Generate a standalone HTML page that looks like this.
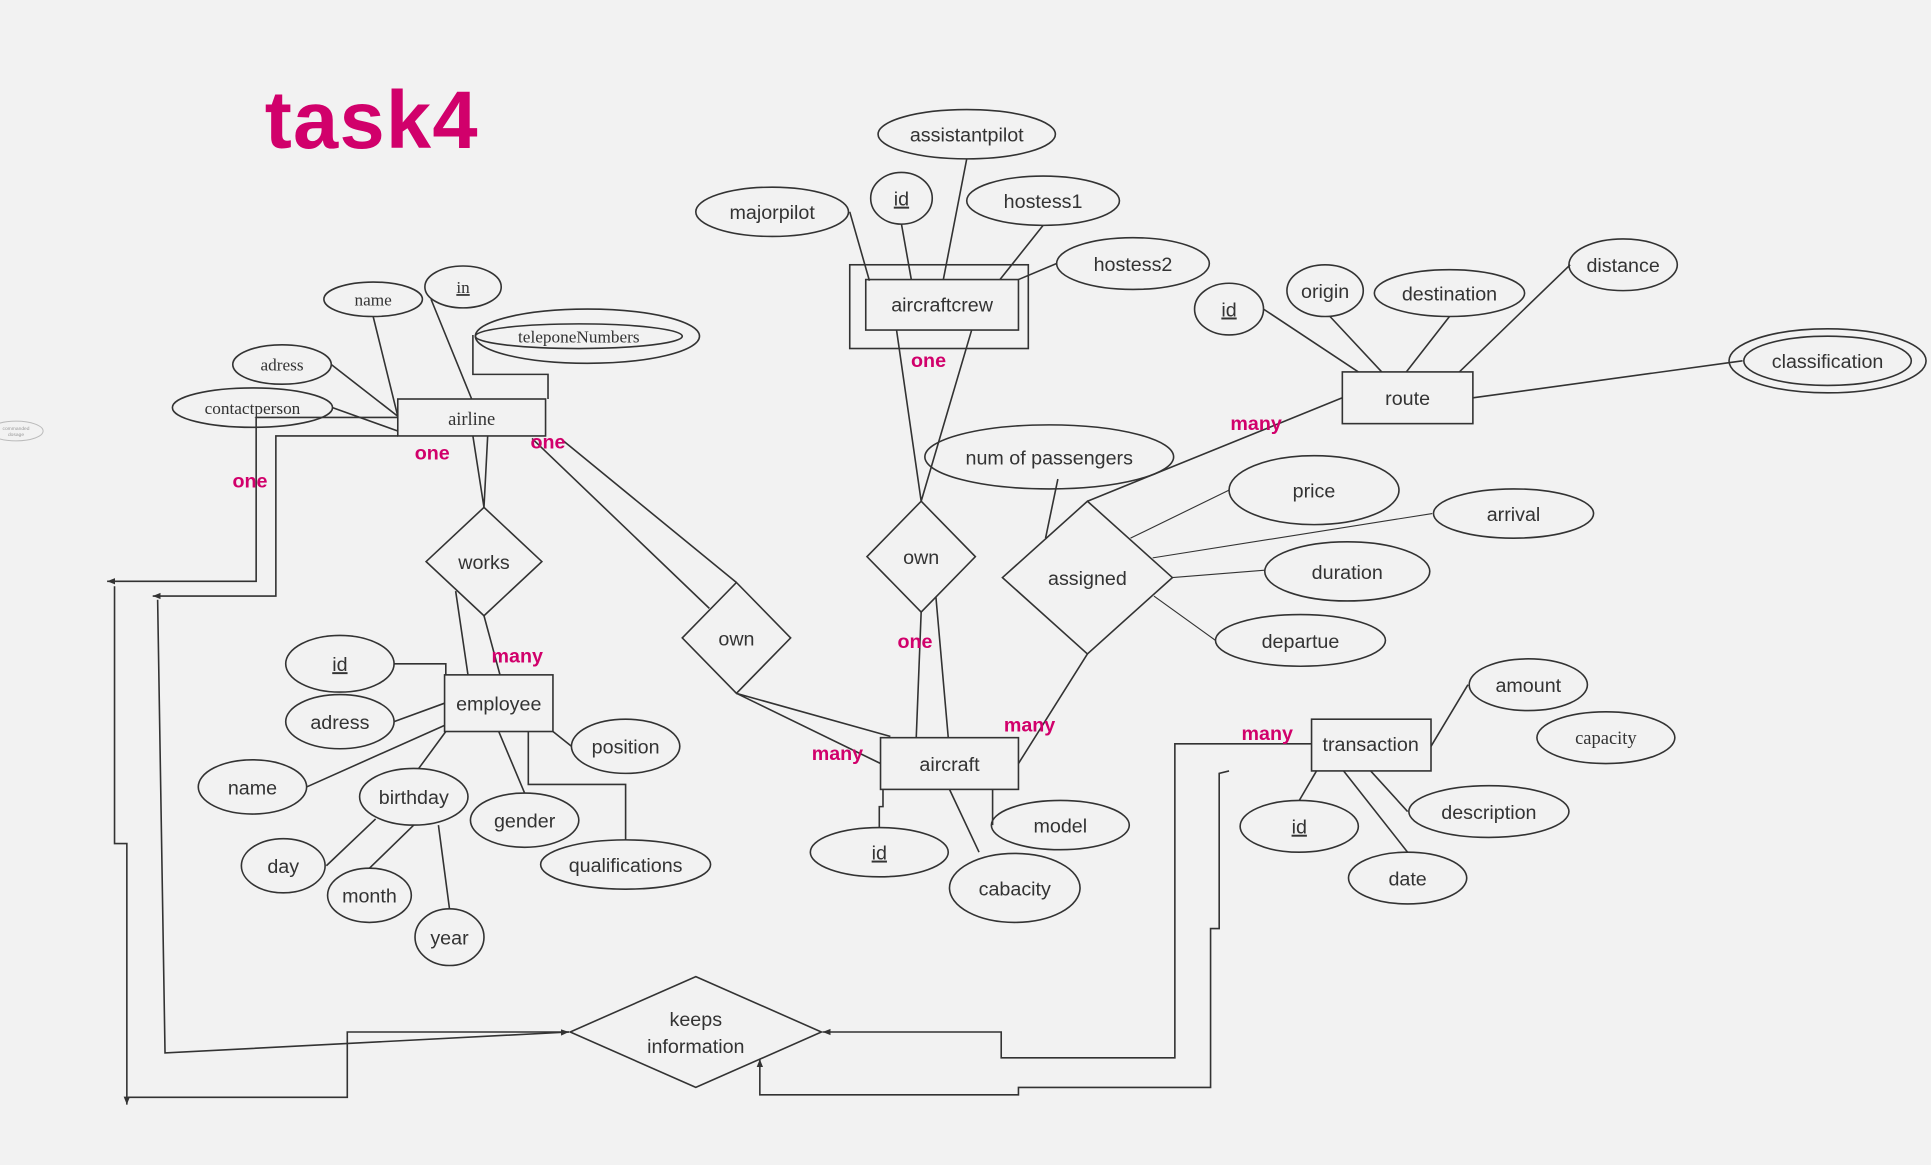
<!DOCTYPE html>
<html><head><meta charset="utf-8"><style>
html,body{margin:0;padding:0;background:#f2f2f2;}
svg{display:block}
text{font-family:"Liberation Sans",sans-serif;fill:#333;}
.s{font-family:"Liberation Serif",serif;}
.p{fill:#d1006b;font-weight:bold;font-size:16px;}
</style></head><body>
<svg width="1931" height="1165" viewBox="0 0 1568 946" xmlns="http://www.w3.org/2000/svg">
<defs><marker id="a" markerWidth="6" markerHeight="6" refX="5" refY="3" orient="auto"><path d="M0,1 L5,3 L0,5z" fill="#333"/></marker></defs>
<rect width="1568" height="946" fill="#f2f2f2"/>
<text x="215" y="120" font-size="66" font-weight="bold" letter-spacing="1" style="fill:#d1006b">task4</text>
<g fill="none" stroke="#333" stroke-width="1.3">
<rect x="690" y="215" width="145" height="68"/><rect x="703" y="227" width="124" height="41"/>
<ellipse cx="785" cy="109" rx="72" ry="20"/><ellipse cx="732" cy="161" rx="25" ry="21"/>
<ellipse cx="627" cy="172" rx="62" ry="20"/><ellipse cx="847" cy="163" rx="62" ry="20"/>
<ellipse cx="920" cy="214" rx="62" ry="21"/>
<path d="M690,172L706,228M732,182L740,227M785,129L766,227M847,183L812,227M858,214L827,227"/>
<rect x="1090" y="302" width="106" height="42"/>
<ellipse cx="998" cy="251" rx="28" ry="21"/><ellipse cx="1076" cy="236" rx="31" ry="21"/>
<ellipse cx="1177" cy="238" rx="61" ry="19"/><ellipse cx="1318" cy="215" rx="44" ry="21"/>
<ellipse cx="1484" cy="293" rx="80" ry="26"/><ellipse cx="1484" cy="293" rx="68" ry="20"/>
<path d="M1026,251L1103,302M1080,257L1122,302M1177,257L1142,302M1275,215L1185,302M1196,323L1415,293"/>
<rect x="323" y="324" width="120" height="30"/>
<ellipse cx="303" cy="243" rx="40" ry="14"/><ellipse cx="376" cy="233" rx="31" ry="17"/>
<ellipse cx="477" cy="273" rx="91" ry="22"/><ellipse cx="470" cy="273" rx="84" ry="10"/>
<ellipse cx="229" cy="296" rx="40" ry="16"/><ellipse cx="205" cy="331" rx="65" ry="16"/>
<ellipse cx="13" cy="350" rx="22" ry="8" stroke="#bbb" stroke-width="0.8"/>
<path d="M384,272L384,304L445,304L445,324M303,257L323,338M350,243L383,324M269,296L323,338M270,331L323,350"/>
<path d="M393,412L440,456L393,500L346,456Z"/>
<path d="M384,354L393,412M396,354L393,412M370,480L380,548M393,500L406,548"/>
<rect x="361" y="548" width="88" height="46"/>
<ellipse cx="276" cy="539" rx="44" ry="23"/><ellipse cx="276" cy="586" rx="44" ry="22"/>
<ellipse cx="205" cy="639" rx="44" ry="22"/><ellipse cx="336" cy="647" rx="44" ry="23"/>
<ellipse cx="230" cy="703" rx="34" ry="22"/><ellipse cx="300" cy="727" rx="34" ry="22"/>
<ellipse cx="365" cy="761" rx="28" ry="23"/><ellipse cx="426" cy="666" rx="44" ry="22"/>
<ellipse cx="508" cy="606" rx="44" ry="22"/><ellipse cx="508" cy="702" rx="69" ry="20"/>
<path d="M320,539L362,539L362,548M320,586L361,571M249,639L361,589M340,624L362,594M265,703L305,665M300,705L336,670M365,738L356,670M426,644L405,594M464,606L449,594M429,594L429,637L508,637L508,682"/>
<path d="M598,473L642,518L598,563L554,518Z"/>
<path d="M432,356L576,494M455,356L598,473M598,563L715,620M598,563L723,598"/>
<rect x="715" y="599" width="112" height="42"/>
<ellipse cx="714" cy="692" rx="56" ry="20"/><ellipse cx="824" cy="721" rx="53" ry="28"/>
<ellipse cx="861" cy="670" rx="56" ry="20"/>
<path d="M717,641L717,655L714,655L714,672M771,641L795,692M806,641L806,670"/>
<path d="M748,407L792,452L748,497L704,452Z"/>
<path d="M728,268L748,407M789,268L748,407M748,497L744,599M760,485L770,599"/>
<ellipse cx="852" cy="371" rx="101" ry="26"/>
<path d="M883,407L952,469L883,531L814,469Z"/>
<path d="M859,389L849,437M883,407L1090,323M883,531L827,620"/>
<ellipse cx="1067" cy="398" rx="69" ry="28"/><ellipse cx="1229" cy="417" rx="65" ry="20"/>
<ellipse cx="1094" cy="464" rx="67" ry="24"/><ellipse cx="1056" cy="520" rx="69" ry="21"/>
<path d="M998,398L918,437M1163,417L936,453M1027,463L952,469M987,520L937,484" stroke-width="0.9"/>
<rect x="1065" y="584" width="97" height="42"/>
<ellipse cx="1241" cy="556" rx="48" ry="21"/><ellipse cx="1304" cy="599" rx="56" ry="21"/>
<ellipse cx="1209" cy="659" rx="65" ry="21"/><ellipse cx="1143" cy="713" rx="48" ry="21"/>
<ellipse cx="1055" cy="671" rx="48" ry="21"/>
<path d="M1192,556L1162,606M1143,659L1113,626M1143,692L1091,626M1055,650L1069,626"/>
<path d="M565,793L667,838L565,883L463,838Z"/>
<path d="M323,339L208,339L208,472L87,472" marker-end="url(#a)"/>
<path d="M323,354L224,354L224,484L124,484" marker-end="url(#a)"/>
<path d="M93,476L93,685L103,685L103,897" marker-end="url(#a)"/>
<path d="M128,487L134,855L462,838" marker-end="url(#a)"/>
<path d="M104,891L282,891L282,838L462,838"/>
<path d="M1065,604L954,604L954,859L813,859L813,838L668,838" marker-end="url(#a)"/>
<path d="M998,626L990,628L990,754L983,754L983,883L827,883L827,889L617,889L617,860" marker-end="url(#a)"/>
</g>
<g font-size="16" text-anchor="middle">
<text x="785" y="115">assistantpilot</text>
<text x="732" y="167" text-decoration="underline">id</text>
<text x="627" y="178">majorpilot</text>
<text x="847" y="169">hostess1</text>
<text x="920" y="220">hostess2</text>
<text x="765" y="253">aircraftcrew</text>
<text x="998" y="257" text-decoration="underline">id</text>
<text x="1076" y="242">origin</text>
<text x="1177" y="244">destination</text>
<text x="1318" y="221">distance</text>
<text x="1484" y="299">classification</text>
<text x="1143" y="329">route</text>
<text class="s" x="383" y="345" font-size="15">airline</text>
<text class="s" x="303" y="248" font-size="14">name</text>
<text class="s" x="376" y="238" font-size="14" text-decoration="underline">in</text>
<text class="s" x="470" y="278" font-size="14">teleponeNumbers</text>
<text class="s" x="229" y="301" font-size="14">adress</text>
<text class="s" x="205" y="336" font-size="14">contactperson</text>
<text x="393" y="462">works</text>
<text x="405" y="577">employee</text>
<text x="276" y="545" text-decoration="underline">id</text>
<text x="276" y="592">adress</text>
<text x="205" y="645">name</text>
<text x="336" y="653">birthday</text>
<text x="230" y="709">day</text>
<text x="300" y="733">month</text>
<text x="365" y="767">year</text>
<text x="426" y="672">gender</text>
<text x="508" y="612">position</text>
<text x="508" y="708">qualifications</text>
<text x="598" y="524">own</text>
<text x="748" y="458">own</text>
<text x="771" y="626">aircraft</text>
<text x="714" y="698" text-decoration="underline">id</text>
<text x="824" y="727">cabacity</text>
<text x="861" y="676">model</text>
<text x="852" y="377">num of passengers</text>
<text x="883" y="475">assigned</text>
<text x="1067" y="404">price</text>
<text x="1229" y="423">arrival</text>
<text x="1094" y="470">duration</text>
<text x="1056" y="526">departue</text>
<text x="1113" y="610">transaction</text>
<text x="1241" y="562">amount</text>
<text class="s" x="1304" y="604" font-size="15">capacity</text>
<text x="1209" y="665">description</text>
<text x="1143" y="719">date</text>
<text x="1055" y="677" text-decoration="underline">id</text>
<text x="565" y="833">keeps</text>
<text x="565" y="855">information</text>
<text x="13" y="349" font-size="4" style="fill:#999">commanded</text>
<text x="13" y="354" font-size="4" style="fill:#999">dosage</text>
</g>
<g text-anchor="middle">
<text class="p" x="754" y="298">one</text>
<text class="p" x="351" y="373">one</text>
<text class="p" x="445" y="364">one</text>
<text class="p" x="203" y="396">one</text>
<text class="p" x="420" y="538">many</text>
<text class="p" x="680" y="617">many</text>
<text class="p" x="836" y="594">many</text>
<text class="p" x="743" y="526">one</text>
<text class="p" x="1020" y="349">many</text>
<text class="p" x="1029" y="601">many</text>
</g>
</svg>
</body></html>
